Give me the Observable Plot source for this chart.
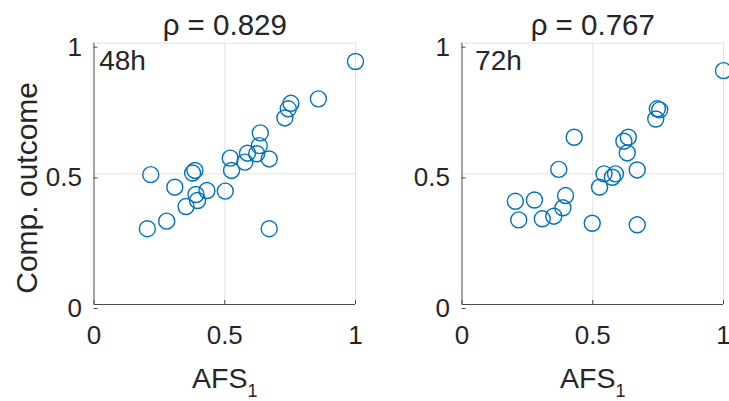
<!DOCTYPE html>
<html><head><meta charset="utf-8">
<script src="https://cdn.jsdelivr.net/npm/d3@7"></script>
<script src="https://cdn.jsdelivr.net/npm/@observablehq/plot@0.6"></script>
<style>
html,body{margin:0;padding:0;background:#fff;overflow:hidden;width:729px;height:401px;}
#wrap{position:relative;width:729px;height:401px;overflow:hidden;}
.panel{position:absolute;top:0;}
</style></head><body><div id="wrap"></div>
<script>
// 48h panel
const afs48 = [1.0, 0.858, 0.753, 0.743, 0.730, 0.636, 0.632, 0.587, 0.622, 0.577, 0.670, 0.521, 0.526, 0.386, 0.377, 0.217, 0.309, 0.432, 0.502, 0.390, 0.396, 0.352, 0.278, 0.204, 0.670];
const outcome48 = [0.930, 0.787, 0.770, 0.749, 0.714, 0.657, 0.608, 0.579, 0.577, 0.545, 0.557, 0.560, 0.513, 0.513, 0.503, 0.497, 0.449, 0.436, 0.434, 0.421, 0.398, 0.375, 0.319, 0.290, 0.290];
// 72h panel
const afs72 = [1.0, 0.747, 0.756, 0.741, 0.636, 0.619, 0.632, 0.429, 0.370, 0.670, 0.543, 0.587, 0.575, 0.526, 0.396, 0.204, 0.277, 0.386, 0.351, 0.307, 0.217, 0.498, 0.670];
const outcome72 = [0.895, 0.749, 0.745, 0.710, 0.640, 0.625, 0.580, 0.640, 0.517, 0.515, 0.500, 0.500, 0.487, 0.449, 0.417, 0.395, 0.400, 0.370, 0.338, 0.328, 0.324, 0.311, 0.305];

const panelNames = ["48h", "72h"];
const rhoValues = ["0.829", "0.767"];
const tickValues = [0, 0.5, 1];
const tickLabels = ["0", "0.5", "1"];
const gridValues = [0.5, 1];
const panelLabelX = [0.02, 0.05];
const panelLabelY = [0.93, 0.93];
const xLabel = "AFS";
const xLabelSub = "1";
const yLabel = "Comp. outcome";

const FONT = "'Liberation Sans', Arial, Helvetica, sans-serif";
const TEXT = "#262626";
const BLUE = "#0072BD";
const GRID = "#e3e3e3";
const AXIS = "#4a4a4a";

function makePanel(xs, ys, idx, withYLabel) {
  const pts = xs.map((x, i) => ({x, y: ys[i]}));
  const marks = [
    Plot.gridX(gridValues, {stroke: GRID, strokeOpacity: 1, strokeWidth: 1}),
    Plot.gridY(gridValues, {stroke: GRID, strokeOpacity: 1, strokeWidth: 1}),
    Plot.ruleX([0], {stroke: AXIS, strokeWidth: 1}),
    Plot.ruleY([0], {stroke: AXIS, strokeWidth: 1}),
    Plot.axisX({ticks: tickValues, tickFormat: d => tickLabels[tickValues.indexOf(d)], tickSize: -4, tickPadding: 25, fontSize: 26, color: TEXT, label: null, stroke: AXIS}),
    Plot.axisY({ticks: tickValues, tickFormat: d => tickLabels[tickValues.indexOf(d)], tickSize: -4, tickPadding: 16, fontSize: 26, color: TEXT, label: null, dy: 4, stroke: AXIS}),
    Plot.dot(pts, {x: "x", y: "y", r: 8, stroke: BLUE, strokeWidth: 1.4, fill: "none"}),
    Plot.text([{t: panelNames[idx], x: panelLabelX[idx], y: panelLabelY[idx]}], {x: "x", y: "y", text: "t", textAnchor: "start", lineAnchor: "middle", fontSize: 28, fill: TEXT}),
    Plot.text(["ρ = " + rhoValues[idx]], {frameAnchor: "top", lineAnchor: "bottom", dy: -8, fontSize: 29.5, fill: TEXT}),
    Plot.text([xLabel], {frameAnchor: "bottom", textAnchor: "middle", lineAnchor: "bottom", dy: 83, fontSize: 28.5, fill: TEXT})
  ];
  if (withYLabel) {
    marks.push(Plot.text([yLabel], {frameAnchor: "left", rotate: -90, dx: -67, dy: 14, textAnchor: "middle", lineAnchor: "middle", fontSize: 30, fill: TEXT}));
  }
  const svg = Plot.plot({
    width: 364.5,
    height: 401,
    marginLeft: 93.5,
    marginRight: 9.5,
    marginTop: 42.7,
    marginBottom: 97,
    style: {fontFamily: FONT, background: "transparent", overflow: "visible"},
    x: {domain: [0, 1], axis: null},
    y: {domain: [0, 1], axis: null},
    marks
  });
  // subscript on x label
  svg.querySelectorAll("text").forEach(t => {
    if (t.textContent === xLabel) {
      const ts = document.createElementNS("http://www.w3.org/2000/svg", "tspan");
      ts.setAttribute("font-size", "18");
      ts.setAttribute("dy", "9");
      ts.textContent = xLabelSub;
      t.appendChild(ts);
    }
  });
  return svg;
}

const wrap = document.getElementById("wrap");
const p1 = makePanel(afs48, outcome48, 0, true);
p1.classList.add("panel"); p1.style.left = "0px";
const p2 = makePanel(afs72, outcome72, 1, false);
p2.classList.add("panel"); p2.style.left = "368.2px";
wrap.appendChild(p1);
wrap.appendChild(p2);
</script></body></html>
